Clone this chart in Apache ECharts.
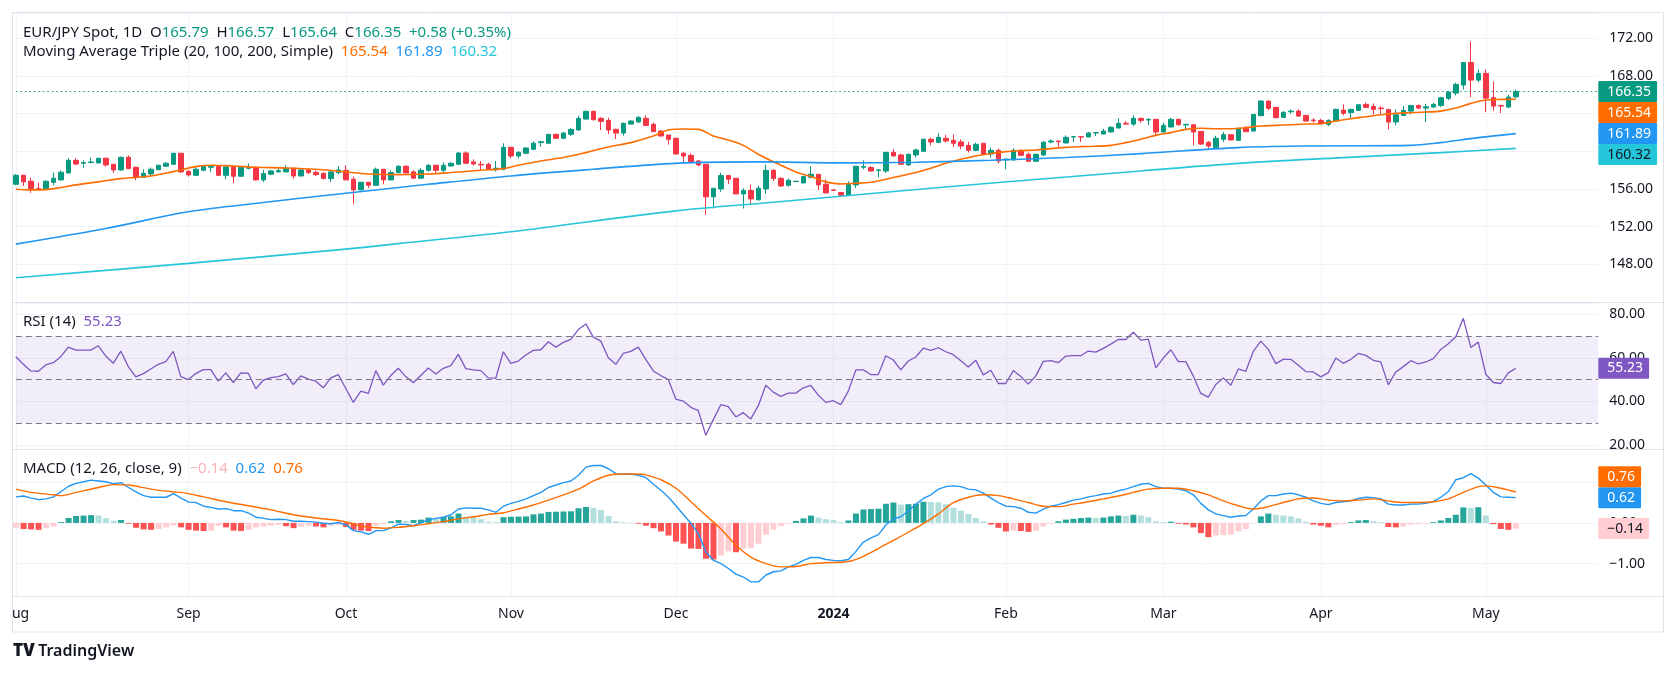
<!DOCTYPE html>
<html><head><meta charset="utf-8">
<script src="https://cdn.jsdelivr.net/npm/echarts@6/dist/echarts.min.js"></script>
<style>html,body{margin:0;padding:0;background:#fff}#c{width:1674px;height:674px}</style>
</head><body><div id="c"></div>
<script>
// ---------------- DATA ----------------
const monthLabels = ['Aug','Sep','Oct','Nov','Dec','2024','Feb','Mar','Apr','May'];

const opens = [156.51,157.46,156.83,156.05,155.98,156.72,156.97,157.71,159.05,158.74,
158.81,158.77,159.27,158.63,158.03,159.37,158.31,157.25,157.60,158.06,
158.42,158.63,159.80,157.89,157.46,157.99,158.31,158.42,157.46,158.35,
157.36,158.21,158.31,156.97,157.57,157.82,157.82,158.21,157.39,158.03,
157.78,157.67,157.11,157.75,157.99,157.04,155.91,156.72,156.40,158.10,
156.97,157.75,158.42,157.82,157.15,157.99,158.52,157.99,158.45,158.63,
159.83,158.88,158.63,158.63,158.10,158.10,160.43,159.51,159.80,160.22,
160.93,160.86,161.81,161.39,161.81,162.27,163.43,164.25,163.51,163.29,
162.34,161.95,162.90,163.12,163.51,162.87,162.16,161.74,161.39,159.80,
159.58,158.98,158.63,155.17,156.01,157.43,157.14,155.48,155.84,154.85,
156.01,157.99,157.14,156.40,156.79,156.65,157.25,157.57,156.51,155.91,
155.63,155.34,156.44,158.31,158.28,157.99,157.92,159.90,159.62,158.56,
159.62,160.01,161.28,160.96,161.39,161.17,161.00,160.64,160.11,160.86,
159.72,160.11,159.09,159.09,160.11,159.69,158.95,159.62,161.00,161.10,
160.89,161.53,161.56,161.53,161.95,161.84,162.06,162.48,162.98,162.90,
163.51,163.33,163.40,162.06,162.59,163.40,162.80,162.83,162.13,160.96,
160.40,161.28,161.77,161.17,162.45,162.16,163.79,165.34,164.67,163.61,
164.21,164.28,163.82,163.33,163.29,162.87,163.22,164.39,164.11,164.35,
164.99,164.78,164.60,164.46,163.12,163.82,164.28,164.88,164.60,164.71,
164.88,165.63,166.19,167.04,169.44,167.57,168.28,165.70,164.88,164.71,
165.79];
const highs = [157.57,157.53,157.22,156.69,156.90,157.75,157.99,159.27,159.27,159.05,
159.34,159.30,159.34,158.63,159.44,159.58,158.38,158.10,158.28,158.59,
158.84,159.84,159.84,157.99,158.35,158.52,158.52,158.45,158.38,158.38,
158.35,158.70,158.38,158.03,158.03,158.28,158.52,158.24,158.24,158.17,
157.96,157.75,158.03,158.42,158.52,157.32,156.72,156.76,158.28,158.13,
157.99,158.52,158.52,157.99,158.20,158.63,158.59,158.84,158.84,159.94,
160.01,159.16,158.98,158.81,158.98,160.86,160.47,160.01,160.43,161.07,
161.07,161.81,161.88,162.06,162.45,163.79,164.32,164.35,163.65,163.58,
162.41,163.05,163.33,163.75,163.82,163.05,162.23,161.74,161.46,159.94,
159.80,159.09,158.63,156.08,157.75,157.43,157.14,156.08,156.47,156.33,
158.59,158.10,157.25,157.11,156.86,157.39,158.42,157.57,157.04,155.95,
155.70,156.83,158.45,159.05,158.45,158.10,159.90,160.22,159.76,159.76,
160.29,161.35,161.46,161.92,161.74,161.81,161.28,161.00,160.93,160.86,
160.40,160.29,159.19,160.33,160.22,159.87,159.76,161.10,161.28,161.10,
161.70,161.56,161.63,162.06,162.06,162.41,162.69,163.51,163.22,163.82,
163.58,163.51,163.40,163.05,163.58,163.47,162.94,162.83,162.13,161.10,
161.67,162.06,161.84,162.45,162.69,163.96,165.45,165.41,164.74,164.28,
164.46,164.46,163.86,163.51,163.47,163.40,164.53,164.99,164.53,164.99,
165.20,165.10,164.81,164.46,164.46,164.81,164.92,164.99,165.06,165.17,
165.80,166.40,167.29,169.48,171.67,168.70,168.70,167.43,164.88,166.01,
166.57];
const lows = [156.40,156.33,155.59,155.98,155.94,156.40,156.90,157.64,158.52,158.24,
158.74,158.74,158.38,157.71,157.92,158.10,156.93,157.22,157.29,157.99,
158.38,158.56,157.71,157.32,157.43,157.92,157.82,157.36,157.04,156.62,
157.32,158.10,156.90,156.76,157.46,157.75,157.78,157.11,157.32,157.60,
157.39,157.04,156.76,157.57,156.93,154.39,155.87,156.12,156.37,156.51,
156.93,157.68,157.68,157.11,157.11,157.85,157.75,157.71,158.38,158.56,
158.66,158.52,158.03,158.03,157.85,157.99,159.27,159.27,159.69,160.15,
160.47,160.82,161.35,161.35,161.63,162.23,163.40,163.29,162.27,161.84,
161.31,161.67,162.83,163.05,162.69,162.06,161.60,160.71,159.69,158.81,
158.73,158.42,153.26,153.93,155.70,156.54,155.48,153.93,154.39,154.81,
155.48,156.86,156.23,156.26,156.76,156.62,157.14,155.91,155.59,155.80,
155.17,155.27,156.12,158.10,157.82,157.25,157.71,159.48,158.63,158.49,
159.34,159.97,160.64,160.86,160.93,160.47,160.22,159.87,160.01,159.69,
159.34,158.70,158.10,159.05,159.51,158.95,158.91,159.51,160.86,160.50,
160.86,161.00,161.00,161.53,161.63,161.81,161.99,162.45,162.80,162.69,
163.01,162.80,161.74,161.99,162.55,162.73,162.34,160.64,160.68,160.29,
160.36,161.00,161.17,161.14,162.06,162.13,163.75,164.39,163.54,163.54,
164.00,163.68,163.19,163.05,162.87,162.69,163.19,163.82,163.51,164.28,
164.60,163.93,163.96,162.34,162.76,163.75,163.93,164.49,163.12,164.60,
164.71,165.45,165.94,166.58,165.77,167.36,164.18,164.28,164.07,164.60,
165.64];
const closes = [157.46,156.76,156.05,156.01,156.83,157.15,157.78,159.05,158.66,158.81,
158.88,159.27,158.56,158.03,159.37,158.17,157.22,157.67,158.10,158.52,
158.74,159.80,157.82,157.50,158.10,158.42,158.42,157.46,158.35,157.36,
158.31,158.28,156.97,157.64,157.92,157.96,158.21,157.39,158.03,157.75,
157.53,157.11,157.82,158.03,156.97,155.91,156.72,156.40,158.10,156.97,
157.75,158.42,157.71,157.15,157.99,158.52,157.99,158.52,158.74,159.83,
158.74,158.66,158.56,158.10,158.21,160.43,159.51,159.90,160.36,160.86,
161.03,161.81,161.39,161.95,162.34,163.51,164.25,163.36,163.19,162.27,
161.95,162.98,163.22,163.61,162.76,162.09,161.63,161.28,159.72,159.51,
158.84,158.56,155.17,156.08,157.43,157.04,155.48,155.84,154.95,156.08,
157.99,157.11,156.33,156.93,156.83,157.32,157.57,156.44,155.59,155.84,
155.34,156.47,158.42,158.38,157.92,158.03,159.90,159.51,158.63,159.69,
160.15,161.28,161.00,161.49,161.10,160.86,160.57,160.11,160.75,159.69,
160.11,158.98,159.19,160.11,159.58,158.95,159.69,160.96,161.10,161.03,
161.49,161.56,161.53,161.95,161.99,162.16,162.55,162.98,162.90,163.51,
163.29,163.40,162.06,162.76,163.40,162.83,162.87,162.06,160.78,160.57,
161.39,161.77,161.21,162.45,162.09,163.93,165.34,164.57,163.58,164.14,
164.28,163.75,163.22,163.26,162.94,163.29,164.46,164.04,164.46,164.95,
164.67,164.46,164.53,163.12,163.89,164.35,164.88,164.60,164.74,164.99,
165.70,166.30,167.11,169.44,167.57,168.28,165.66,164.81,164.81,165.77,
166.35];

// moving averages: [bar index, value]
const ma20 = [[0,155.98],[2,155.91],[4,155.94],[6,156.16],[8,156.44],[11,156.76],[14,157.11],[18,157.39],[21,157.85],[24,158.38],[26,158.52],[29,158.45],[32,158.31],[36,158.24],[40,158.10],[43,157.89],[47,157.60],[51,157.53],[55,157.60],[58,157.75],[62,157.99],[65,158.17],[67,158.52],[70,158.98],[73,159.34],[76,159.87],[79,160.47],[82,160.93],[85,161.63],[87,162.27],[89,162.37],[91,162.34],[93,161.63],[95,161.21],[97,160.64],[99,159.70],[101,158.90],[104,157.82],[106,157.32],[108,156.76],[110,156.54],[112,156.61],[114,156.72],[116,157.04],[118,157.39],[120,157.75],[122,158.21],[124,158.73],[126,159.16],[128,159.51],[130,159.76],[132,159.97],[134,160.08],[136,160.15],[138,160.29],[140,160.43],[142,160.50],[144,160.54],[146,160.64],[148,160.93],[150,161.28],[152,161.70],[154,161.99],[156,162.34],[158,162.45],[160,162.41],[162,162.41],[164,162.52],[166,162.69],[168,162.76],[170,162.83],[172,162.90],[174,162.94],[176,163.22],[178,163.47],[180,163.68],[182,163.89],[184,164.04],[186,164.11],[188,164.18],[190,164.28],[192,164.60],[194,165.10],[196,165.45],[198,165.52],[200,165.54]];
const ma100 = [[0,150.15],[12,151.81],[23,153.58],[33,154.57],[44,155.56],[55,156.50],[66,157.39],[77,158.10],[88,158.73],[99,158.88],[110,158.78],[120,158.85],[130,159.05],[140,159.35],[150,159.76],[163,160.40],[172,160.57],[186,160.64],[190,160.93],[195,161.46],[200,161.89]];
const ma200 = [[0,146.58],[23,148.10],[44,149.62],[51,150.20],[66,151.46],[88,153.68],[101,154.60],[113,155.45],[131,156.69],[150,157.92],[163,158.73],[177,159.34],[190,159.87],[200,160.32]];

const rsi = [60.57,57.07,54.03,53.88,56.77,57.83,60.57,64.98,63.61,63.61,
63.61,65.59,60.87,57.53,63.16,56.01,51.29,52.81,54.94,57.07,
58.29,63.00,51.44,50.08,52.81,54.64,54.64,49.32,53.12,48.71,
53.12,52.97,45.82,49.77,50.99,51.44,52.66,47.79,51.75,50.23,
49.32,46.27,50.84,52.36,45.97,39.58,44.75,43.69,54.18,47.49,
51.90,55.25,51.44,48.56,51.90,55.40,52.66,55.25,56.46,61.63,
55.10,54.49,54.18,50.84,50.68,62.85,57.53,58.59,61.33,63.46,
63.76,67.41,64.98,67.11,68.48,73.04,75.63,69.54,67.72,60.11,
57.07,62.09,63.00,64.98,59.35,54.03,51.90,50.08,41.10,40.19,
37.30,35.78,24.50,31.67,38.52,37.60,32.89,34.87,31.98,38.06,
47.49,44.30,42.32,43.84,43.84,46.27,47.34,42.93,39.58,40.34,
38.52,44.75,54.49,54.49,52.36,52.36,61.03,59.05,54.49,58.59,
60.42,64.52,63.46,64.68,62.85,61.48,58.75,55.86,58.90,52.21,
54.33,48.25,48.25,54.18,51.44,47.95,51.75,58.44,58.75,57.83,
60.87,61.03,61.03,63.16,62.70,64.37,66.35,68.48,68.48,71.83,
68.17,68.63,55.40,59.96,63.76,58.29,58.29,51.75,43.69,42.02,
47.79,50.84,47.49,54.94,53.88,63.00,67.72,63.92,57.38,59.35,
59.35,56.62,53.73,53.57,51.29,53.27,59.96,57.53,59.35,62.09,
61.18,58.90,58.14,47.64,53.57,56.01,58.75,57.22,58.14,59.66,
63.92,66.50,69.70,78.21,64.83,67.26,52.51,48.71,48.25,53.12,
55.23];

const macd = [0.64,0.66,0.61,0.57,0.59,0.64,0.77,0.90,0.97,1.01,
1.05,1.03,1.01,0.96,0.99,0.87,0.76,0.67,0.63,0.63,
0.63,0.72,0.61,0.51,0.50,0.41,0.38,0.34,0.35,0.30,
0.30,0.24,0.14,0.11,0.08,0.09,0.08,0.04,0.04,0.03,
0.02,-0.01,-0.02,0.01,-0.05,-0.19,-0.22,-0.28,-0.19,-0.19,
-0.12,-0.03,-0.04,-0.07,0.00,0.08,0.11,0.14,0.20,0.34,
0.37,0.36,0.36,0.32,0.26,0.41,0.48,0.53,0.59,0.67,
0.75,0.87,0.93,0.99,1.03,1.17,1.37,1.41,1.41,1.33,
1.21,1.20,1.20,1.17,1.11,0.95,0.80,0.63,0.42,0.20,
-0.01,-0.27,-0.72,-0.92,-1.00,-1.12,-1.26,-1.33,-1.45,-1.45,
-1.28,-1.20,-1.18,-1.08,-1.02,-0.92,-0.85,-0.85,-0.90,-0.92,
-0.93,-0.90,-0.70,-0.47,-0.37,-0.29,-0.05,0.10,0.15,0.30,
0.46,0.60,0.69,0.83,0.89,0.91,0.89,0.83,0.81,0.73,
0.61,0.50,0.41,0.40,0.36,0.26,0.24,0.34,0.41,0.45,
0.50,0.56,0.59,0.64,0.67,0.71,0.73,0.79,0.83,0.89,
0.95,0.97,0.89,0.85,0.85,0.83,0.79,0.69,0.48,0.32,
0.22,0.18,0.14,0.17,0.18,0.34,0.54,0.67,0.67,0.71,
0.73,0.69,0.63,0.54,0.48,0.45,0.50,0.52,0.54,0.60,
0.63,0.62,0.59,0.46,0.44,0.44,0.46,0.46,0.48,0.52,
0.63,0.77,1.06,1.11,1.21,1.10,0.93,0.75,0.64,0.63,
0.62];
const signal = [[0,0.83],[2,0.75],[5,0.69],[6,0.67],[8,0.75],[11,0.87],[13,0.94],[15,0.93],[18,0.83],[21,0.76],[22,0.75],[25,0.64],[28,0.52],[31,0.42],[34,0.32],[37,0.20],[40,0.12],[43,0.06],[45,-0.02],[46,-0.08],[48,-0.12],[49,-0.13],[51,-0.11],[53,-0.07],[55,-0.02],[57,0.03],[59,0.10],[61,0.15],[63,0.21],[65,0.25],[67,0.34],[69,0.44],[71,0.56],[73,0.69],[75,0.83],[77,1.03],[79,1.17],[81,1.20],[83,1.20],[84,1.18],[86,1.06],[88,0.85],[90,0.52],[92,0.18],[94,-0.15],[96,-0.55],[98,-0.84],[100,-1.00],[102,-1.08],[104,-1.07],[106,-1.00],[108,-0.98],[111,-0.95],[113,-0.82],[115,-0.63],[117,-0.43],[119,-0.23],[121,-0.02],[122,0.10],[123,0.22],[124,0.37],[125,0.50],[127,0.63],[129,0.69],[131,0.67],[133,0.59],[135,0.50],[137,0.41],[139,0.40],[141,0.46],[143,0.52],[145,0.59],[147,0.66],[149,0.75],[151,0.83],[153,0.85],[155,0.85],[157,0.79],[159,0.69],[161,0.54],[163,0.42],[165,0.34],[167,0.40],[169,0.50],[171,0.59],[173,0.61],[175,0.56],[177,0.54],[179,0.56],[181,0.59],[183,0.54],[185,0.50],[187,0.50],[189,0.52],[191,0.59],[193,0.75],[195,0.89],[196,0.91],[198,0.85],[200,0.76]];
const hist = [-0.12,-0.15,-0.16,-0.17,-0.13,-0.09,0.02,0.12,0.17,0.18,
0.19,0.18,0.12,0.05,0.07,-0.02,-0.12,-0.16,-0.17,-0.15,
-0.11,-0.06,-0.11,-0.17,-0.19,-0.20,-0.19,-0.07,-0.11,-0.19,
-0.20,-0.17,-0.11,-0.09,-0.07,-0.05,-0.08,-0.13,-0.09,-0.07,
-0.09,-0.11,-0.07,-0.05,-0.10,-0.17,-0.19,-0.20,-0.07,-0.03,
0.04,0.07,0.05,0.07,0.08,0.13,0.11,0.15,0.16,0.23,
0.15,0.14,0.09,0.03,0.02,0.14,0.15,0.155,0.16,0.21,
0.23,0.27,0.275,0.28,0.285,0.36,0.39,0.37,0.32,0.17,
0.04,0.02,0.01,-0.02,-0.07,-0.13,-0.21,-0.31,-0.46,-0.51,
-0.63,-0.64,-0.88,-0.90,-0.80,-0.70,-0.72,-0.63,-0.62,-0.51,
-0.29,-0.17,-0.08,-0.02,0.05,0.11,0.18,0.13,0.09,0.07,
0.02,0.06,0.23,0.33,0.34,0.35,0.47,0.50,0.45,0.46,
0.47,0.52,0.515,0.51,0.46,0.37,0.30,0.22,0.12,0.04,
-0.04,-0.12,-0.21,-0.19,-0.20,-0.22,-0.19,-0.09,-0.02,0.04,
0.08,0.10,0.12,0.13,0.12,0.13,0.16,0.18,0.17,0.20,
0.18,0.14,0.04,0.02,0.03,-0.02,-0.04,-0.11,-0.25,-0.35,
-0.31,-0.30,-0.29,-0.21,-0.15,-0.01,0.16,0.23,0.20,0.18,
0.16,0.11,0.03,-0.04,-0.07,-0.11,-0.05,-0.03,0.02,0.06,
0.07,0.04,0.02,-0.10,-0.11,-0.09,-0.04,-0.03,-0.02,0.02,
0.06,0.12,0.20,0.38,0.37,0.385,0.18,-0.03,-0.15,-0.17,
-0.14];

// ---------------- CATEGORIES (trading days) ----------------
const dates = [];
{
  const d = new Date(Date.UTC(2023, 7, 1));
  const end = new Date(Date.UTC(2024, 4, 7));
  while (d <= end) {
    const w = d.getUTCDay();
    if (w !== 0 && w !== 6) dates.push(d.toISOString().slice(0, 10));
    d.setUTCDate(d.getUTCDate() + 1);
  }
}
const PAD = 11;
const cats = dates.concat(Array.from({length: PAD}, (_, i) => 'f' + i));
const monthStarts = [];
dates.forEach((s, i) => { if (i === 0 || s.slice(0, 7) !== dates[i - 1].slice(0, 7)) monthStarts.push(i); });
const monthIdx = new Map(monthStarts.map((i, k) => [i, k]));

// ---------------- LAYOUT ----------------
const FONT = "'Noto Sans', sans-serif";
const HF = `15px ${FONT}`;
const TXT = '#131722';
const GRIDC = '#F0F3FA';
const SEP = '#E0E3EB';
const UP = '#089981', DN = '#F23645';
const C20 = '#FF6D00', C100 = '#2196F3', C200 = '#26C6DA';
const CRSI = '#7E57C2';
const L = 15.8, W = (cats.length - 1) * 7.5;
const P = {top: 12.8, bottom: 302};
const R = {top: 303, bottom: 449};
const M = {top: 449.5, bottom: 596};

const last = closes.length - 1;
const f2 = v => v.toFixed(2).replace('-', '\u2212');

function xAxis(gi, labels) {
  return {
    type: 'category', gridIndex: gi, data: cats, boundaryGap: false,
    axisLine: {show: false}, axisTick: {show: false},
    axisLabel: labels ? {
      show: true, interval: (i) => monthIdx.has(i), margin: 11,
      color: TXT, fontSize: 14, fontFamily: FONT,
      formatter: (v, i) => { const k = monthIdx.get(i); if (k === undefined) return ''; const t = monthLabels[k]; return /^\d+$/.test(t) ? '{b|' + t + '}' : t; },
      rich: {b: {fontWeight: 'bold', fontSize: 14, fontFamily: FONT, color: TXT}}
    } : {show: false},
    splitLine: {show: true, interval: (i) => monthIdx.has(i), lineStyle: {color: GRIDC, width: 1}}
  };
}
function yAxis(gi, extra) {
  return Object.assign({
    type: 'value', gridIndex: gi, position: 'right', scale: true,
    axisLine: {show: false}, axisTick: {show: false},
    axisLabel: {color: TXT, fontSize: 14, fontFamily: FONT, margin: 11, showMinLabel: false, showMaxLabel: false, formatter: f2},
    splitLine: {show: true, lineStyle: {color: GRIDC, width: 1}}
  }, extra);
}

const histColors = hist.map((h, i) => {
  const p = i > 0 ? hist[i - 1] : null;
  if (h >= 0) return (p === null || h > p) ? '#26A69A' : '#B2DFDB';
  return (p !== null && h < p) ? '#FF5252' : '#FFCDD2';
});

const chart = echarts.init(document.getElementById('c'), null, {renderer: 'canvas'});

function baseGraphics() {
  const g = [];
  g.push({type: 'rect', id: 'mask', z: 50, shape: {x: 0, y: 597, width: 12, height: 34}, style: {fill: '#fff'}, silent: true});
  g.push({type: 'rect', id: 'frame', z: 51, shape: {x: 12.5, y: 12.5, width: 1651, height: 619.5}, style: {fill: 'none', stroke: SEP, lineWidth: 1}, silent: true});
  [302.5, 449.5, 596.5].forEach((y, k) => g.push({type: 'line', id: 'sep' + k, z: 51, shape: {x1: 12.5, y1: y, x2: 1663.5, y2: y}, style: {stroke: SEP, lineWidth: 1}, silent: true}));
  const O = opens[last], H = highs[last], Lo = lows[last], Cc = closes[last];
  const chg = Cc - closes[last - 1], pct = chg / closes[last - 1] * 100;
  const vc = Cc >= O ? 'g' : 'r';
  const sg = chg >= 0 ? '+' : '\u2212';
  g.push({type: 'text', id: 'h1', z: 52, x: 23, y: 33, silent: true, style: {
    text: `{t|EUR/JPY Spot, 1D}  {t|O}{${vc}|${O.toFixed(2)}}  {t|H}{${vc}|${H.toFixed(2)}}  {t|L}{${vc}|${Lo.toFixed(2)}}  {t|C}{${vc}|${Cc.toFixed(2)}}  {${vc}|${sg}${Math.abs(chg).toFixed(2)} (${sg}${Math.abs(pct).toFixed(2)}%)}`,
    verticalAlign: 'middle', font: HF, fill: TXT,
    rich: {t: {fill: TXT, font: HF}, g: {fill: UP, font: HF}, r: {fill: DN, font: HF}}
  }});
  g.push({type: 'text', id: 'h2', z: 52, x: 23, y: 52, silent: true, style: {
    text: `{t|Moving Average Triple (20, 100, 200, Simple)}  {a|${ma20[ma20.length-1][1].toFixed(2)}}  {b|${ma100[ma100.length-1][1].toFixed(2)}}  {c|${ma200[ma200.length-1][1].toFixed(2)}}`,
    verticalAlign: 'middle', font: HF,
    rich: {t: {fill: TXT, font: HF}, a: {fill: C20, font: HF}, b: {fill: C100, font: HF}, c: {fill: C200, font: HF}}
  }});
  g.push({type: 'text', id: 'h3', z: 52, x: 23, y: 322, silent: true, style: {
    text: `{t|RSI (14)}  {a|${rsi[last].toFixed(2)}}`, verticalAlign: 'middle', font: HF,
    rich: {t: {fill: TXT, font: HF}, a: {fill: CRSI, font: HF}}
  }});
  g.push({type: 'text', id: 'h4', z: 52, x: 23, y: 469, silent: true, style: {
    text: `{t|MACD (12, 26, close, 9)}  {h|${f2(hist[last])}}  {a|${f2(macd[last])}}  {b|${f2(signal[signal.length-1][1])}}`, verticalAlign: 'middle', font: HF,
    rich: {t: {fill: TXT, font: HF}, h: {fill: '#F8B4BA', font: HF}, a: {fill: C100, font: HF}, b: {fill: C20, font: HF}}
  }});
  g.push({type: 'text', id: 'logo', z: 52, x: 13, y: 651, silent: true, style: {
    text: '{l|TV} {n|TradingView}', verticalAlign: 'middle',
    rich: {l: {fill: TXT, font: `900 17px ${FONT}`}, n: {fill: TXT, font: `600 16px ${FONT}`}}
  }});
  return g;
}

const option = {
  animation: false,
  textStyle: {fontFamily: FONT},
  grid: [
    {left: L, width: W, top: P.top, height: P.bottom - P.top},
    {left: L, width: W, top: R.top, height: R.bottom - R.top},
    {left: L, width: W, top: M.top, height: M.bottom - M.top}
  ],
  xAxis: [xAxis(0, false), xAxis(1, false), xAxis(2, true)],
  yAxis: [
    yAxis(0, {min: 144, max: 174.72, interval: 4}),
    yAxis(1, {min: 18.16, max: 85.24, splitNumber: 3}),
    yAxis(2, {min: -1.796, max: 1.803, splitNumber: 3})
  ],
  series: [
    {type: 'candlestick', name: 'EURJPY', xAxisIndex: 0, yAxisIndex: 0, clip: false, barWidth: 5,
     data: opens.map((o, i) => [o, closes[i], lows[i], highs[i]]),
     itemStyle: {color: UP, color0: DN, borderColor: UP, borderColor0: DN, borderWidth: 1},
     markLine: {silent: true, symbol: ['none', 'none'], label: {show: false},
       lineStyle: {color: UP, type: [1.5, 3], width: 1.2}, data: [{yAxis: closes[last]}]}},
    {type: 'line', name: 'MA20', xAxisIndex: 0, yAxisIndex: 0, data: ma20, showSymbol: false, smooth: 0.35, lineStyle: {color: C20, width: 1.6}},
    {type: 'line', name: 'MA100', xAxisIndex: 0, yAxisIndex: 0, data: ma100, showSymbol: false, smooth: 0.35, lineStyle: {color: C100, width: 1.6}},
    {type: 'line', name: 'MA200', xAxisIndex: 0, yAxisIndex: 0, data: ma200, showSymbol: false, smooth: 0.35, lineStyle: {color: C200, width: 1.6}},
    {type: 'line', name: 'RSI', xAxisIndex: 1, yAxisIndex: 1, data: rsi, showSymbol: false, lineStyle: {color: CRSI, width: 1.3},
     markArea: {silent: true, itemStyle: {color: 'rgba(126,87,194,0.1)'}, data: [[{yAxis: 30}, {yAxis: 70}]]},
     markLine: {silent: true, symbol: ['none', 'none'], label: {show: false}, lineStyle: {color: '#787B86', type: [6, 4], width: 1},
       data: [{yAxis: 70}, {yAxis: 50}, {yAxis: 30}]}},
    {type: 'bar', name: 'Hist', xAxisIndex: 2, yAxisIndex: 2, data: hist, barWidth: 6, clip: false,
     itemStyle: {color: (p) => histColors[p.dataIndex]}},
    {type: 'line', name: 'MACD', xAxisIndex: 2, yAxisIndex: 2, data: macd, showSymbol: false, lineStyle: {color: C100, width: 1.4}},
    {type: 'line', name: 'Signal', xAxisIndex: 2, yAxisIndex: 2, data: signal, showSymbol: false, smooth: 0.3, lineStyle: {color: C20, width: 1.4}}
  ],
  graphic: baseGraphics()
};
chart.setOption(option);

// ---------------- AXIS VALUE TAGS ----------------
function tags() {
  const xR = L + W;
  const TH = 21;
  const out = [];
  function make(list, axis, dir) {
    list.forEach(t => { t.y = chart.convertToPixel({yAxisIndex: axis}, t.v); });
    if (dir > 0) {
      list.sort((a, b) => a.y - b.y);
      for (let i = 1; i < list.length; i++) list[i].y = Math.max(list[i].y, list[i - 1].y + TH);
    } else {
      list.sort((a, b) => b.y - a.y);
      for (let i = 1; i < list.length; i++) list[i].y = Math.min(list[i].y, list[i - 1].y - TH);
    }
    list.forEach((t, k) => out.push({type: 'text', id: 'tag' + axis + '_' + k, z: 60, x: xR, y: t.y, silent: true,
      style: {text: f2(t.v), fill: t.fg || '#fff', font: `14px ${FONT}`, verticalAlign: 'middle', align: 'left',
        backgroundColor: t.bg, padding: [4, 6, 3, 9], lineHeight: 14, borderRadius: 1}}));
  }
  make([{v: closes[last], bg: UP}, {v: ma20[ma20.length-1][1], bg: C20}, {v: ma100[ma100.length-1][1], bg: C100}, {v: ma200[ma200.length-1][1], bg: C200, fg: TXT}], 0, 1);
  make([{v: rsi[last], bg: CRSI}], 1, 1);
  make([{v: hist[last], bg: '#FFCDD2', fg: TXT}, {v: macd[last], bg: C100}, {v: signal[signal.length-1][1], bg: C20}], 2, -1);
  return out;
}
chart.setOption({graphic: baseGraphics().concat(tags())});
</script>
</body></html>
